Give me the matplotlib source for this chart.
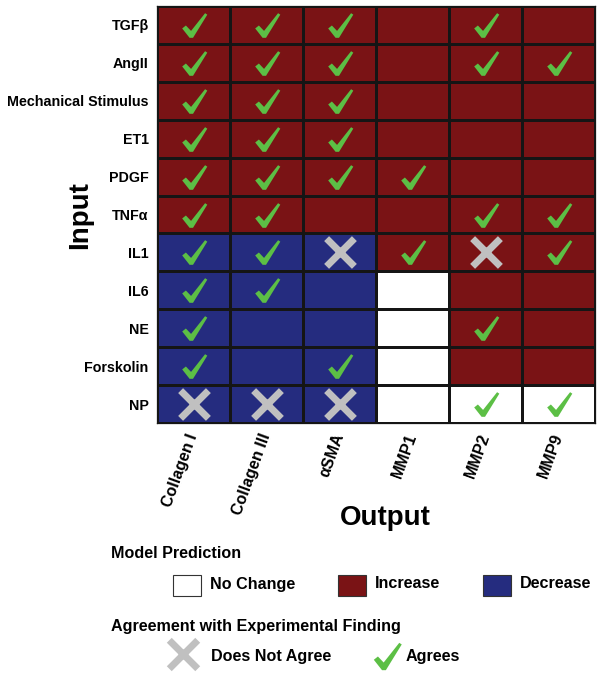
import numpy as np
import matplotlib.pyplot as plt
from matplotlib.colors import ListedColormap
from matplotlib.patches import Rectangle
from matplotlib.path import Path

plt.rcParams['font.family'] = ['Liberation Sans', 'DejaVu Sans']
plt.rcParams['font.weight'] = 'bold'

# inputs (rows) and outputs (columns)
inputs = ['TGFβ', 'AngII', 'Mechanical Stimulus', 'ET1', 'PDGF', 'TNFα',
          'IL1', 'IL6', 'NE', 'Forskolin', 'NP']
outputs = ['Collagen I', 'Collagen III', 'αSMA', 'MMP1', 'MMP2', 'MMP9']

# model prediction: 0 = no change, 1 = increase, -1 = decrease
prediction = [
    [1, 1, 1, 1, 1, 1],
    [1, 1, 1, 1, 1, 1],
    [1, 1, 1, 1, 1, 1],
    [1, 1, 1, 1, 1, 1],
    [1, 1, 1, 1, 1, 1],
    [1, 1, 1, 1, 1, 1],
    [-1, -1, -1, 1, 1, 1],
    [-1, -1, -1, 0, 1, 1],
    [-1, -1, -1, 0, 1, 1],
    [-1, -1, -1, 0, 1, 1],
    [-1, -1, -1, 0, 0, 0],
]

# agreement with experiment: 'c' agrees, 'x' does not agree, '' not tested
agreement = [
    ['c', 'c', 'c', '', 'c', ''],
    ['c', 'c', 'c', '', 'c', 'c'],
    ['c', 'c', 'c', '', '', ''],
    ['c', 'c', 'c', '', '', ''],
    ['c', 'c', 'c', 'c', '', ''],
    ['c', 'c', '', '', 'c', 'c'],
    ['c', 'c', 'x', 'c', 'x', 'c'],
    ['c', 'c', '', '', '', ''],
    ['c', '', '', '', 'c', ''],
    ['c', '', 'c', '', '', ''],
    ['x', 'x', 'x', '', 'c', 'c'],
]

RED = '#7a1315'
BLUE = '#252c7f'
GREEN = '#5cbf45'
GRAY = '#c0c0c0'

# check mark shape (thick short stroke, tapering long stroke)
check = Path([(-0.50, -0.12), (-0.35, 0.00), (-0.14, -0.22), (0.43, 0.50),
              (0.52, 0.44), (-0.06, -0.50), (-0.20, -0.50), (-0.50, -0.12)],
             [Path.MOVETO] + [Path.LINETO] * 6 + [Path.CLOSEPOLY])

fig = plt.figure(figsize=(6.02, 6.75), dpi=100)
ax = fig.add_axes([157 / 602, 1 - 423 / 675, 438 / 602, 417 / 675])

cmap = ListedColormap([BLUE, 'white', RED])
ax.pcolormesh(np.array(prediction), cmap=cmap, vmin=-1.5, vmax=1.5,
              edgecolors='#151515', linewidth=0.9)
ax.set_xlim(0, len(outputs))
ax.set_ylim(len(inputs), 0)

for i in range(len(inputs)):
    for j in range(len(outputs)):
        a = agreement[i][j]
        if a == 'c':
            ax.scatter(j + 0.5, i + 0.5, marker=check, s=340, color=GREEN,
                       linewidths=0, zorder=3)
        elif a == 'x':
            ax.scatter(j + 0.5, i + 0.5, marker='x', s=400, color=GRAY,
                       linewidths=5, zorder=3)

ax.set_yticks(np.arange(len(inputs)) + 0.5)
ax.set_yticklabels(inputs, fontsize=10.3, fontweight='bold')
ax.set_xticks(np.arange(len(outputs)) + 0.5)
ax.set_xticklabels(outputs, fontsize=11.5, fontweight='bold', rotation=70,
                   ha='right', va='center', rotation_mode='anchor')
ax.tick_params(length=0, pad=6)
ax.tick_params(axis='x', pad=8)
for s in ax.spines.values():
    s.set_color('#151515')
    s.set_linewidth(0.9)

fig.text(80 / 602, 1 - 215 / 675, 'Input', rotation=90, fontsize=20,
         fontweight='bold', ha='center', va='center')
fig.text(385 / 602, 1 - 518 / 675, 'Output', fontsize=20,
         fontweight='bold', ha='center', va='center')

# legend in pixel coordinates
lax = fig.add_axes([0, 0, 1, 1])
lax.set_xlim(0, 602)
lax.set_ylim(675, 0)
lax.axis('off')

lax.text(111, 553, 'Model Prediction', fontsize=11.6, fontweight='bold',
         va='center')
for x0, c, lab in [(173, 'white', 'No Change'), (338, RED, 'Increase'),
                   (483, BLUE, 'Decrease')]:
    lax.add_patch(Rectangle((x0, 575), 28, 21, facecolor=c,
                            edgecolor='#333333', linewidth=0.8))
    lax.text(x0 + 37, 584, lab, fontsize=11.6, fontweight='bold', va='center')

lax.text(111, 627, 'Agreement with Experimental Finding', fontsize=11.6,
         fontweight='bold', va='center')
lax.scatter(183, 654, marker='x', s=420, color=GRAY, linewidths=5)
lax.text(211, 656, 'Does Not Agree', fontsize=11.6, fontweight='bold',
         va='center')
lax.scatter(387, 656, marker=check, s=420, color=GREEN, linewidths=0)
lax.text(406, 656, 'Agrees', fontsize=11.6, fontweight='bold', va='center')

fig.savefig('out.png', dpi=100)
